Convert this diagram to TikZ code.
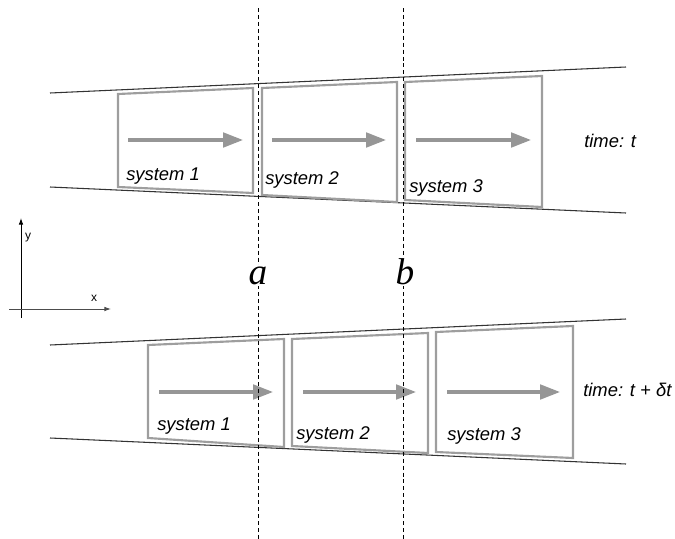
\documentclass[tikz,border=0pt]{standalone}
\usepackage{fontspec}
\setmainfont{Liberation Sans}
\newfontfamily\serifit{Liberation Serif}
\usetikzlibrary{arrows.meta}
\definecolor{boxgray}{RGB}{158,158,158}
\definecolor{arrowgray}{RGB}{150,150,150}
\begin{document}
\begin{tikzpicture}[x=0.75pt,y=-0.75pt,
  wall/.style={draw=black!80, line width=0.8pt},
  sysbox/.style={draw=boxgray, line width=1.6pt, line join=miter},
  flow/.style={draw=arrowgray, line width=2.3pt, -{Triangle[length=15pt,width=11pt]}},
  lbl/.style={font=\itshape\fontsize{13.8}{16}\selectfont, anchor=base west, inner sep=0pt},
  cut/.style={draw=black, line width=0.6pt, dash pattern=on 3pt off 2.2pt},
  cutlbl/.style={font=\serifit\itshape\fontsize{28}{32}\selectfont, fill=white, inner sep=1pt, anchor=base},
  axis/.style={line width=0.7pt, -{Latex[length=5pt,width=3.5pt]}},
  axlbl/.style={font=\fontsize{9}{11}\selectfont, inner sep=0pt}
]
\useasboundingbox (0,0) rectangle (675,539);

% ---- top funnel (time t)
\coordinate (tul) at (50,93);  \coordinate (tur) at (626,67);
\coordinate (tll) at (50,187); \coordinate (tlr) at (626,213);
\draw[wall] (tul) -- (tur);
\draw[wall] (tll) -- (tlr);

\draw[sysbox] (118,94) -- (253,88) -- (253,193) -- (118,187) -- cycle;
\draw[sysbox] (262,88) -- (397,82) -- (397,202) -- (262,195) -- cycle;
\draw[sysbox] (405,82) -- (542,76) -- (542,207) -- (405,200) -- cycle;

\coordinate (ta1s) at (128,140); \coordinate (ta1e) at (243,140);
\coordinate (ta2s) at (272,140); \coordinate (ta2e) at (386,140);
\coordinate (ta3s) at (416,140); \coordinate (ta3e) at (531,140);
\draw[flow] (ta1s) -- (ta1e);
\draw[flow] (ta2s) -- (ta2e);
\draw[flow] (ta3s) -- (ta3e);

\node[lbl] (ts1) at (126,180) {system 1};
\node[lbl] (ts2) at (265,184) {system 2};
\node[lbl] (ts3) at (409,192) {system 3};
\node[lbl] (tt) at (584,147) {time: t};

% ---- bottom funnel (time t + dt)
\coordinate (bul) at (50,345);  \coordinate (bur) at (626,319);
\coordinate (bll) at (50,438);  \coordinate (blr) at (626,464);
\draw[wall] (bul) -- (bur);
\draw[wall] (bll) -- (blr);

\draw[sysbox] (148,345) -- (284,339) -- (284,447) -- (148,438) -- cycle;
\draw[sysbox] (292,339) -- (428,333) -- (428,453) -- (292,446) -- cycle;
\draw[sysbox] (436,332) -- (573,326) -- (573,458) -- (436,452) -- cycle;

\coordinate (ba1s) at (159,392); \coordinate (ba1e) at (273,392);
\coordinate (ba2s) at (303,392); \coordinate (ba2e) at (416,392);
\coordinate (ba3s) at (447,392); \coordinate (ba3e) at (560,392);
\draw[flow] (ba1s) -- (ba1e);
\draw[flow] (ba2s) -- (ba2e);
\draw[flow] (ba3s) -- (ba3e);

\node[lbl] (bs1) at (157,430) {system 1};
\node[lbl] (bs2) at (296,439) {system 2};
\node[lbl] (bs3) at (447,440) {system 3};
\node[lbl] (bt) at (583,396) {time: t + δt};

% ---- axes
\coordinate (yo) at (21,318); \coordinate (yt) at (21,218);
\coordinate (xo) at (9,309);  \coordinate (xt) at (111,309);
\draw[axis] (yo) -- (yt);
\draw[axis, draw=black!70] (xo) -- (xt);
\node[axlbl] (ylab) at (28,238) {y};
\node[axlbl] (xlab) at (94,298) {x};

% ---- control surfaces
\coordinate (at) at (258,8); \coordinate (ab) at (258,539);
\coordinate (bt) at (403,8); \coordinate (bb) at (403,539);
\draw[cut] (at) -- (ab);
\draw[cut] (bt) -- (bb);
\node[cutlbl] (alab) at (258,284) {a};
\node[cutlbl] (blab) at (405,284) {b};
\end{tikzpicture}
\end{document}
